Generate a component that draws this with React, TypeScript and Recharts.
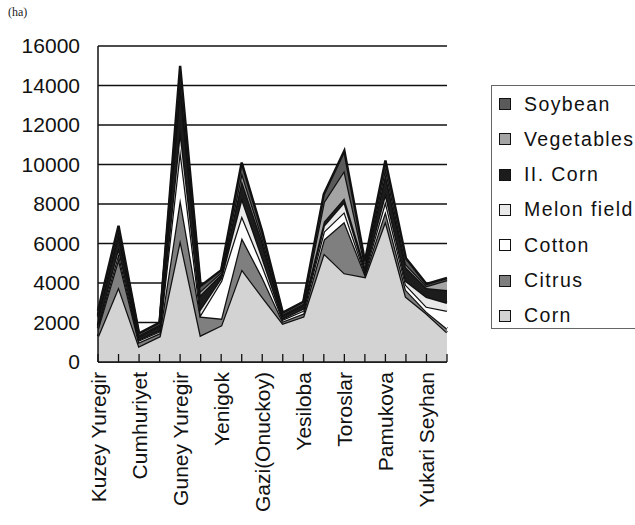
import { AreaChart, Area, XAxis, YAxis, CartesianGrid } from 'recharts'

const districts = [
  'Kuzey Yuregir', '', 'Cumhuriyet', '', 'Guney Yuregir', '', 'Yenigok', '',
  'Gazi(Onuckoy)', '', 'Yesiloba', '', 'Toroslar', '', 'Pamukova', '', 'Yukari Seyhan', '',
]

const corn = [1300, 3800, 800, 1300, 6200, 1350, 1850, 4700, 3300, 1950, 2300, 5500, 4500, 4300, 7150, 3300, 2450, 1500]
const citrus = [400, 1450, 200, 150, 2100, 950, 350, 1600, 1000, 100, 150, 700, 2600, 150, 500, 350, 100, 200]
const cotton = [100, 250, 100, 100, 2500, 100, 1900, 1100, 600, 100, 150, 400, 500, 100, 500, 250, 250, 900]
const melon = [100, 300, 50, 50, 1000, 300, 150, 900, 400, 50, 100, 300, 500, 100, 400, 200, 500, 400]
const secondCorn = [400, 700, 150, 250, 2300, 700, 200, 900, 800, 150, 200, 200, 200, 200, 1000, 700, 450, 650]
const vegetables = [100, 150, 50, 50, 300, 200, 100, 400, 200, 50, 50, 1000, 1400, 100, 300, 150, 100, 500]
const soybean = [200, 250, 100, 100, 600, 250, 100, 500, 300, 100, 100, 400, 1000, 150, 350, 300, 100, 100]

const yTicks = [0, 2000, 4000, 6000, 8000, 10000, 12000, 14000, 16000]

// bottom to top
const series = [
  { key: 'corn', name: 'Corn', fill: '#d3d3d3' },
  { key: 'citrus', name: 'Citrus', fill: '#7f7f7f' },
  { key: 'cotton', name: 'Cotton', fill: '#ffffff' },
  { key: 'melon', name: 'Melon field', fill: '#e9e9e9' },
  { key: 'secondCorn', name: 'II. Corn', fill: '#1c1c1c' },
  { key: 'vegetables', name: 'Vegetables', fill: '#a4a4a4' },
  { key: 'soybean', name: 'Soybean', fill: '#5a5a5a' },
]

const data = districts.map((name, i) => ({
  name,
  corn: corn[i],
  citrus: citrus[i],
  cotton: cotton[i],
  melon: melon[i],
  secondCorn: secondCorn[i],
  vegetables: vegetables[i],
  soybean: soybean[i],
}))

const FONT = '"Liberation Sans", Arial, sans-serif'

function DistrictTick(props: any) {
  const { x, y, payload } = props
  return (
    <g>
      <line x1={x} y1={y} x2={x} y2={y - 8} stroke="#111" strokeWidth={1.3} />
      {payload.value && (
        <text
          x={x}
          y={y + 10}
          transform={`rotate(-90, ${x}, ${y + 10})`}
          textAnchor="end"
          dy="0.36em"
          fontFamily={FONT}
          fontSize={21}
          fill="#111"
        >
          {payload.value}
        </text>
      )}
    </g>
  )
}

export default function App() {
  return (
    <div style={{ position: 'absolute', left: 0, top: 0, width: 635, height: 525, background: '#fff', overflow: 'hidden' }}>
      <div style={{ position: 'absolute', left: 8, top: 5, fontFamily: '"Liberation Serif", serif', fontSize: 12, color: '#222' }}>
        (ha)
      </div>
      <AreaChart width={635} height={525} data={data} margin={{ top: 46, right: 188, bottom: 0, left: 0 }}>
        <CartesianGrid vertical={false} stroke="#111" strokeWidth={1.5} />
        <XAxis
          dataKey="name"
          interval={0}
          tick={<DistrictTick />}
          tickLine={false}
          tickSize={0}
          tickMargin={0}
          axisLine={{ stroke: '#111', strokeWidth: 1.5 }}
          height={163}
        />
        <YAxis
          domain={[0, 16000]}
          ticks={yTicks}
          interval={0}
          tickLine={false}
          tickSize={0}
          tickMargin={18}
          axisLine={{ stroke: '#111', strokeWidth: 1.5 }}
          tick={{ fontFamily: FONT, fontSize: 21, fill: '#111' }}
          width={98}
        />
        <YAxis
          yAxisId="frame"
          orientation="right"
          domain={[0, 16000]}
          tick={false}
          tickLine={false}
          axisLine={{ stroke: '#111', strokeWidth: 1.5 }}
          width={0}
        />
        {series.map((s) => (
          <Area
            key={s.key}
            type="linear"
            dataKey={s.key}
            name={s.name}
            stackId="1"
            stroke="#111"
            strokeWidth={2.5}
            fill={s.fill}
            fillOpacity={1}
            dot={false}
            activeDot={false}
            isAnimationActive={false}
          />
        ))}
      </AreaChart>
      <div
        style={{
          position: 'absolute',
          left: 491,
          top: 85,
          width: 160,
          height: 244,
          border: '1.5px solid #666',
          boxSizing: 'border-box',
          fontFamily: FONT,
          fontSize: 19.5,
          color: '#111',
          letterSpacing: 1.4,
        }}
      >
        {[...series].reverse().map((s, i) => (
          <div key={s.key} style={{ position: 'absolute', left: 7, top: 6 + i * 35.3, height: 24, display: 'flex', alignItems: 'center', whiteSpace: 'nowrap' }}>
            <span style={{ display: 'inline-block', width: 10, height: 10, background: s.fill, border: '1px solid #111', marginRight: 13 }} />
            {s.name}
          </div>
        ))}
      </div>
    </div>
  )
}
